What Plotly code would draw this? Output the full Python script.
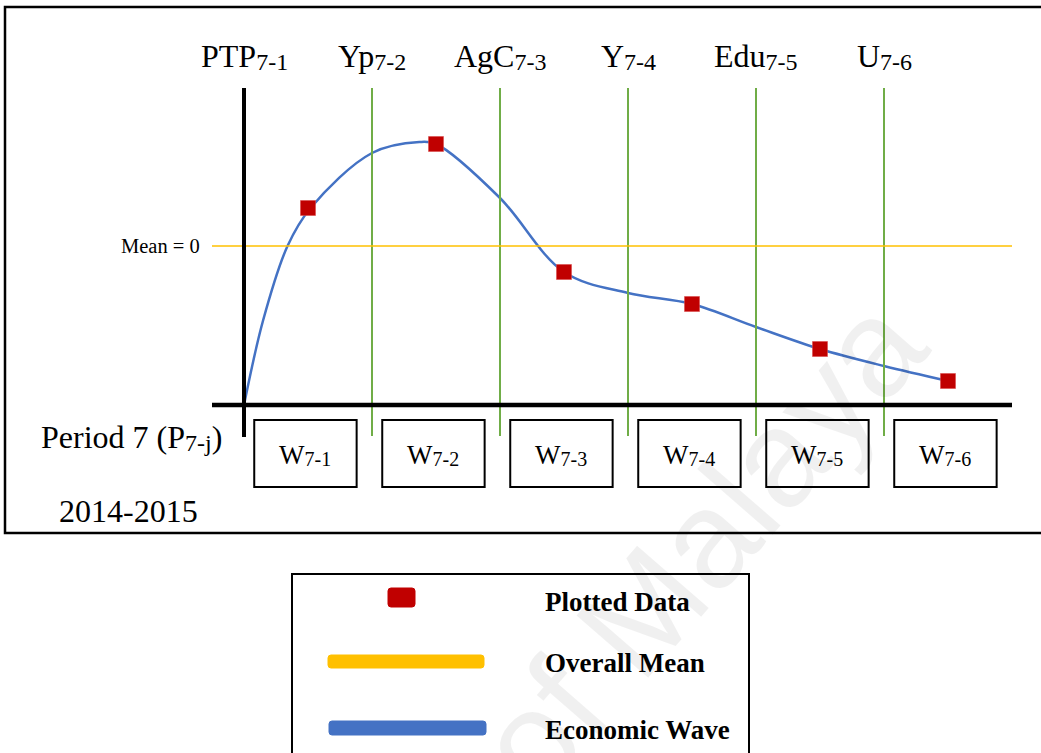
import plotly.graph_objects as go

# ---------------- data ----------------
boundary_names = ["PTP", "Yp", "AgC", "Y", "Edu", "U"]
boundary_subs = ["7-1", "7-2", "7-3", "7-4", "7-5", "7-6"]
window_names = ["W", "W", "W", "W", "W", "W"]
window_subs = ["7-1", "7-2", "7-3", "7-4", "7-5", "7-6"]
window_pos = [0.5, 1.5, 2.5, 3.5, 4.5, 5.5]
plotted_values = [0.38, 1.02, -0.26, -0.58, -1.03, -1.35]
overall_mean = 0.0
baseline = -1.59
wave_x = [0, 0.15, 0.34, 0.52, 1.0, 1.37, 1.5, 2.0, 2.5, 3.0, 3.5, 4.0, 4.5, 5.0, 5.5]
wave_y = [-1.59, -0.74, 0.0, 0.38, 0.93, 1.04, 1.02, 0.48, -0.26, -0.47, -0.58, -0.81, -1.03, -1.20, -1.35]
year_label = "2014-2015"
legend_labels = ["Plotted Data", "Overall Mean", "Economic Wave"]

# ---------------- layout helpers (page pixels -> axis units) ----------------
W, H = 1041, 753
X0, SEG = 244, 128      # axis origin px and segment width px
Y0, UNIT = 246, 100     # mean line px and px per unit


def X(px):
    return (px - X0) / SEG


def Y(py):
    return (Y0 - py) / UNIT


def sub(main, s, size):
    return (main + '<span style="font-size:%dpx;baseline-shift:-%dpx">%s</span>'
            % (round(size * 0.74), max(2, round(size * 0.09)), s))


def rounded_rect(px0, py0, px1, py1, r):
    # rounded rectangle path in axis units (corners given in page pixels)
    rx, ry = r / SEG, r / UNIT
    x0, x1 = X(px0), X(px1)
    y0, y1 = Y(py1), Y(py0)
    return ("M %f,%f L %f,%f Q %f,%f %f,%f L %f,%f Q %f,%f %f,%f L %f,%f Q %f,%f %f,%f "
            "L %f,%f Q %f,%f %f,%f Z" % (
                x0 + rx, y0, x1 - rx, y0, x1, y0, x1, y0 + ry,
                x1, y1 - ry, x1, y1, x1 - rx, y1,
                x0 + rx, y1, x0, y1, x0, y1 - ry,
                x0, y0 + ry, x0, y0, x0 + rx, y0))


SERIF = "Liberation Serif, Times New Roman, serif"
GREEN = "#70AD47"
BLUE = "#4472C4"
YELLOW = "#FFC000"
RED = "#C00000"

fig = go.Figure()
shapes = []
ann = []

# watermark
ann.append(dict(x=X(700), y=Y(545), text="of Malaya", showarrow=False,
                textangle=-49, font=dict(family="Liberation Sans, Arial", size=138,
                                         color="rgba(0,0,0,0.06)")))

# outer frame
shapes.append(dict(type="rect", x0=X(5), x1=X(1046), y0=Y(7), y1=Y(533),
                   line=dict(color="black", width=2.5), layer="below"))

# green boundary lines
for i in range(1, 6):
    shapes.append(dict(type="line", x0=i, x1=i, y0=Y(88), y1=Y(436),
                       line=dict(color=GREEN, width=2)))
# mean line
shapes.append(dict(type="line", x0=X(212), x1=X(1012), y0=overall_mean, y1=overall_mean,
                   line=dict(color=YELLOW, width=1.5)))
# black axes
shapes.append(dict(type="line", x0=0, x1=0, y0=Y(88), y1=Y(437),
                   line=dict(color="black", width=4)))
shapes.append(dict(type="line", x0=X(212), x1=X(1012), y0=baseline, y1=baseline,
                   line=dict(color="black", width=4.5)))

# window boxes
for p, nm, s in zip(window_pos, window_names, window_subs):
    shapes.append(dict(type="rect", x0=p - 0.02 - 0.4, x1=p - 0.02 + 0.4,
                       y0=Y(420), y1=Y(487), line=dict(color="black", width=2),
                       fillcolor="white"))
    ann.append(dict(x=p - 0.02, y=Y(455), text=sub(nm, s, 27), showarrow=False,
                    font=dict(family=SERIF, size=27, color="black")))

# top labels
for i, (nm, s) in enumerate(zip(boundary_names, boundary_subs)):
    ann.append(dict(x=i, y=Y(56), text=sub(nm, s, 32), showarrow=False,
                    font=dict(family=SERIF, size=32, color="black")))

ann.append(dict(x=X(131), y=Y(437), text=sub("Period 7 (P", "7-j", 32) + ")", showarrow=False,
                font=dict(family=SERIF, size=32, color="black")))
ann.append(dict(x=X(128), y=Y(511), text=year_label, showarrow=False,
                font=dict(family=SERIF, size=32, color="black")))
ann.append(dict(x=X(202), y=overall_mean, text="Mean = 0", showarrow=False, xanchor="right",
                font=dict(family=SERIF, size=20.5, color="black")))

# wave and points
fig.add_trace(go.Scatter(x=wave_x, y=wave_y, mode="lines",
                         line=dict(color=BLUE, width=2.5, shape="spline", smoothing=1.0),
                         hoverinfo="skip", showlegend=False))
fig.add_trace(go.Scatter(x=window_pos, y=plotted_values, mode="markers",
                         marker=dict(symbol="square", size=15, color=RED,
                                     line=dict(color="#D84A4A", width=0.6)),
                         showlegend=False))

# manual legend box
shapes.append(dict(type="rect", x0=X(292), x1=X(749), y0=Y(574), y1=Y(760),
                   line=dict(color="black", width=2)))
shapes.append(dict(type="path", path=rounded_rect(388, 588, 415, 607, 3),
                   line=dict(color=RED, width=1), fillcolor=RED))
shapes.append(dict(type="path", path=rounded_rect(328, 655, 484, 668, 3),
                   line=dict(color=YELLOW, width=1), fillcolor=YELLOW))
shapes.append(dict(type="path", path=rounded_rect(329, 721, 486, 735, 3),
                   line=dict(color=BLUE, width=1), fillcolor=BLUE))
for lab, py in zip(legend_labels, [602, 663, 730]):
    ann.append(dict(x=X(543), y=Y(py), text="<b>" + lab + "</b>", showarrow=False,
                    xanchor="left", font=dict(family=SERIF, size=27, color="black")))

fig.update_layout(
    width=W, height=H, margin=dict(l=0, r=0, t=0, b=0),
    paper_bgcolor="white", plot_bgcolor="white",
    xaxis=dict(range=[X(0), X(W)], visible=False, fixedrange=True),
    yaxis=dict(range=[Y(H), Y(0)], visible=False, fixedrange=True),
    shapes=shapes, annotations=ann, showlegend=False,
)
fig.write_html("out.html", config={"displayModeBar": False},
               post_script="document.body.style.margin='0px';document.body.style.overflow='hidden';")
